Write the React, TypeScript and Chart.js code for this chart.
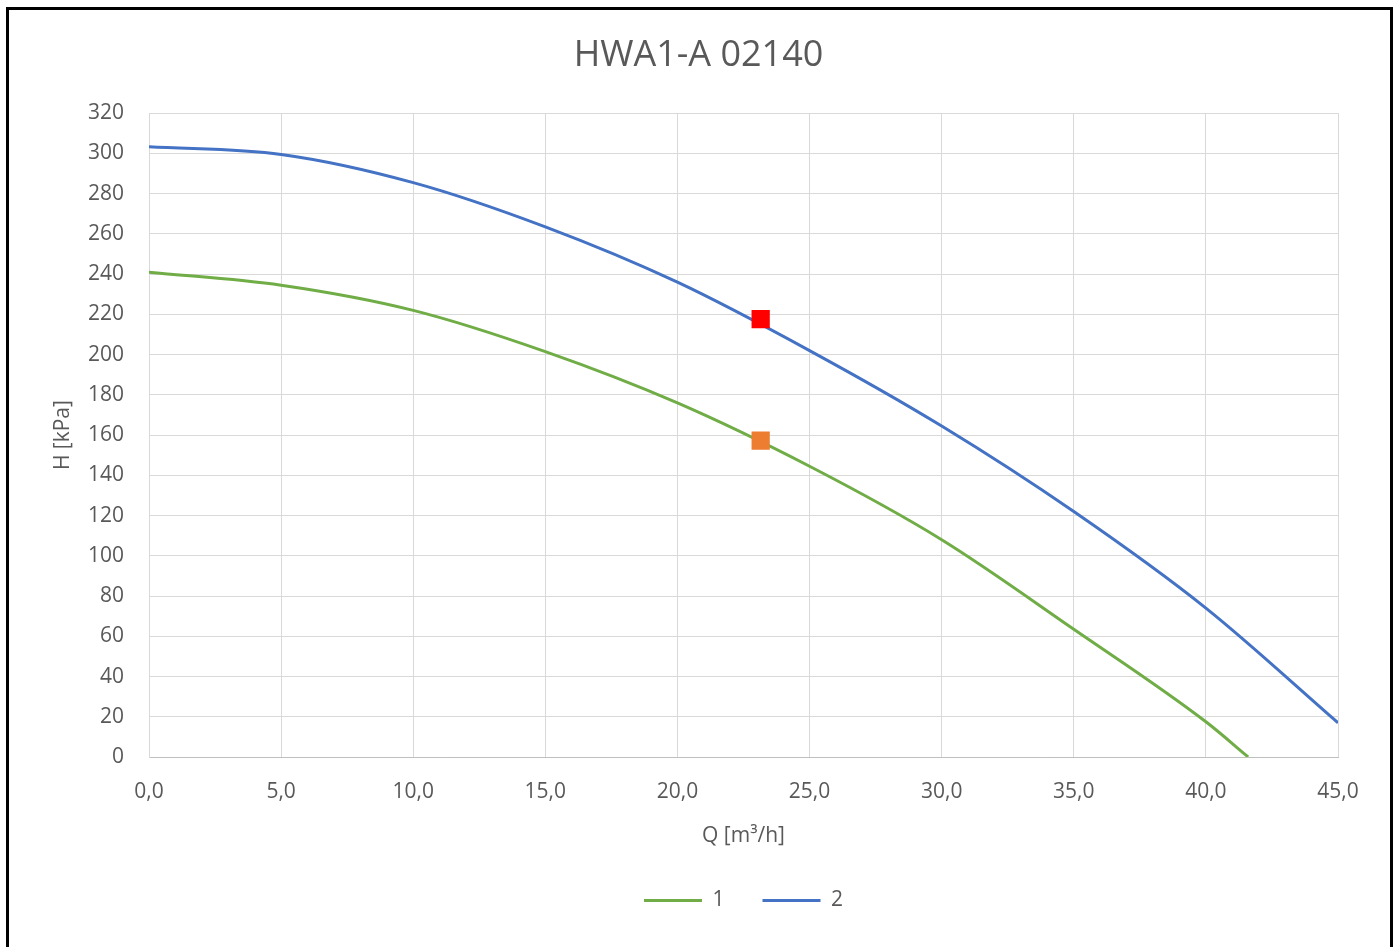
import React, { useEffect, useRef } from "react";
import { Chart, registerables } from "chart.js";

Chart.register(...registerables);

// ---- data ----
const seriesNames = ["1", "2"];
const qCurve1 = [0, 5, 10, 15, 20, 25, 30, 35, 40, 41.6];
const hCurve1 = [241, 234.5, 222, 201.5, 176, 144.5, 108, 63.5, 17.5, 0];
const qCurve2 = [0, 5, 10, 15, 20, 25, 30, 35, 40, 45];
const hCurve2 = [303.3, 299.5, 285.5, 263.5, 236, 202, 164.5, 122, 74, 17];
const qDuty = [23.15];
const hDuty1 = [157.3];
const hDuty2 = [217.6];
const chartTitle = "HWA1-A 02140";
const xTitle = "Q [m³/h]";
const yTitle = "H [kPa]";
const xMin = 0, xMax = 45, xStep = 5;
const yMin = 0, yMax = 320, yStep = 20;

const GREEN = "#70AD47";
const BLUE = "#4472C4";
const RED = "#FF0000";
const ORANGE = "#ED7D31";
const TEXT = "#595959";
const FONT = "'Open Sans', sans-serif";

const toPts = (xs: number[], ys: number[]) => xs.map((x, i) => ({ x, y: ys[i] }));

export default function App() {
  const ref = useRef<HTMLCanvasElement | null>(null);

  useEffect(() => {
    if (!ref.current) return;
    Chart.defaults.font.family = FONT;
    Chart.defaults.color = TEXT;
    const chart = new Chart(ref.current, {
      type: "line",
      data: {
        datasets: [
          {
            label: seriesNames[0],
            data: toPts(qCurve1, hCurve1),
            borderColor: GREEN,
            backgroundColor: GREEN,
            borderWidth: 3,
            pointRadius: 0,
            cubicInterpolationMode: "monotone",
            order: 2,
          },
          {
            label: seriesNames[1],
            data: toPts(qCurve2, hCurve2),
            borderColor: BLUE,
            backgroundColor: BLUE,
            borderWidth: 3,
            pointRadius: 0,
            cubicInterpolationMode: "monotone",
            order: 2,
          },
          {
            label: "duty1",
            data: toPts(qDuty, hDuty1),
            showLine: false,
            pointStyle: "rect",
            pointRadius: 12.9,
            pointBackgroundColor: ORANGE,
            pointBorderColor: ORANGE,
            pointBorderWidth: 0,
            order: 0,
          },
          {
            label: "duty2",
            data: toPts(qDuty, hDuty2),
            showLine: false,
            pointStyle: "rect",
            pointRadius: 12.9,
            pointBackgroundColor: RED,
            pointBorderColor: RED,
            pointBorderWidth: 0,
            order: 0,
          },
        ],
      },
      options: {
        responsive: false,
        animation: false,
        devicePixelRatio: 1,
        layout: { padding: { left: 59, right: 59, top: 0, bottom: 26 } },
        plugins: {
          title: {
            display: true,
            text: chartTitle,
            color: TEXT,
            font: { size: 36, weight: "normal", family: FONT },
            padding: { top: 34, bottom: 36 },
          },
          legend: {
            position: "bottom",
            fullSize: false,
            labels: {
              color: TEXT,
              font: { size: 21, family: FONT },
              boxWidth: 58,
              boxHeight: 3,
              padding: 38,
              generateLabels: (c: any) =>
                c.data.datasets
                  .map((ds: any, i: number) => ({
                    text: ds.label,
                    fillStyle: ds.borderColor,
                    strokeStyle: ds.borderColor,
                    lineWidth: 0,
                    hidden: false,
                    datasetIndex: i,
                    fontColor: TEXT,
                  }))
                  .filter((it: any) => seriesNames.includes(it.text)),
            },
          },
          tooltip: { enabled: false },
        },
        scales: {
          x: {
            type: "linear",
            min: xMin,
            max: xMax,
            afterFit: (s: any) => {
              s.height = 95;
            },
            ticks: {
              stepSize: xStep,
              autoSkip: false,
              maxRotation: 0,
              padding: 22,
              color: TEXT,
              font: { size: 21, family: FONT },
              callback: (v: any) => Number(v).toFixed(1).replace(".", ","),
            },
            grid: { color: "#d9d9d9", lineWidth: 1, drawTicks: false },
            border: { color: "#bfbfbf", width: 1 },
            title: {
              display: true,
              text: xTitle,
              color: TEXT,
              font: { size: 21, family: FONT },
              padding: { top: 0, bottom: 3 },
            },
          },
          y: {
            type: "linear",
            min: yMin,
            max: yMax,
            afterFit: (s: any) => {
              s.width = 90;
            },
            ticks: {
              stepSize: yStep,
              autoSkip: false,
              padding: 25,
              color: TEXT,
              font: { size: 21, family: FONT },
            },
            grid: { color: "#d9d9d9", lineWidth: 1, drawTicks: false },
            border: { color: "#d9d9d9", width: 1 },
            title: {
              display: true,
              text: yTitle,
              color: TEXT,
              font: { size: 21, family: FONT },
              padding: { top: -9, bottom: 0 },
            },
          },
        },
      } as any,
    });
    return () => chart.destroy();
  }, []);

  return (
    <div style={{ position: "fixed", left: 0, top: 0, width: 1397, height: 947, background: "#fff", overflow: "hidden" }}>
      <canvas ref={ref} width={1397} height={947} style={{ position: "absolute", left: 0, top: 0, width: 1397, height: 947 }} />
      <div
        style={{
          position: "absolute",
          left: 6,
          top: 7,
          width: 1387,
          height: 1000,
          border: "3px solid #000",
          boxSizing: "border-box",
          pointerEvents: "none",
        }}
      />
    </div>
  );
}
